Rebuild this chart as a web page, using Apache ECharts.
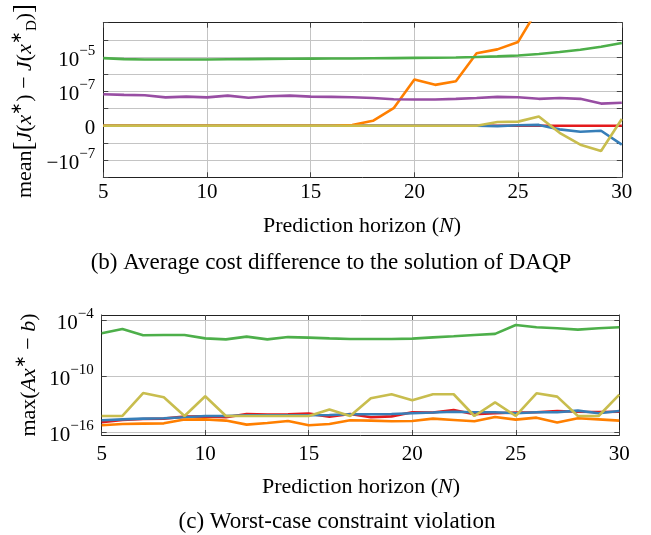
<!DOCTYPE html>
<html>
<head>
<meta charset="utf-8">
<script src="https://cdn.jsdelivr.net/npm/echarts@6/dist/echarts.min.js"></script>
<style>
html,body{margin:0;padding:0;background:#fff;}
#chart{width:651px;height:535px;}
</style>
</head>
<body>
<div id="chart"></div>
<script>
// Prediction horizon
const horizon = [5,6,7,8,9,10,11,12,13,14,15,16,17,18,19,20,21,22,23,24,25,26,27,28,29,30];

// (b) mean cost difference to DAQP (symlog axis)
const costRed    = [0,0,0,0,0,0,0,0,0,0,0,0,0,0,0,0,0,0,0,0,0,0,0,0,0,0];
const costBlue   = [0,0,0,0,0,0,0,0,0,0,0,0,0,0,0,0,0,0,0,-5e-11,7e-11,1.2e-10,-6.2e-10,-1.24e-9,-9.5e-10,-1.16e-8];
const costGreen  = [8.7e-6,7.6e-6,7.2e-6,7.2e-6,7.2e-6,7.2e-6,7.4e-6,7.6e-6,7.8e-6,7.9e-6,8.1e-6,8.3e-6,8.3e-6,8.5e-6,8.7e-6,8.9e-6,9.1e-6,9.5e-6,1.0e-5,1.1e-5,1.23e-5,1.51e-5,1.95e-5,2.69e-5,3.98e-5,6.6e-5];
const costPurple = [6.8e-8,6.2e-8,5.9e-8,4.4e-8,4.9e-8,4.4e-8,5.6e-8,4.2e-8,5.1e-8,5.6e-8,4.9e-8,4.7e-8,4.5e-8,4.0e-8,3.4e-8,3.3e-8,3.3e-8,3.6e-8,4.0e-8,4.7e-8,4.5e-8,3.6e-8,4.0e-8,3.6e-8,1.85e-8,2.1e-8];
const costOrange = [0,0,0,0,0,0,0,0,0,0,0,0,1e-10,9.5e-10,9.5e-9,5.0e-7,2.4e-7,3.9e-7,1.66e-5,2.8e-5,7.6e-5,7.9e-3,2e-2,4e-2,6e-2,1e-1];
const costYellow = [0,0,0,0,0,0,0,0,0,0,0,0,0,0,0,0,0,0,0,6.6e-10,7.4e-10,2.5e-9,-1.57e-9,-1.16e-8,-2.85e-8,1.45e-9];
const costTicks  = {4:['10','−5'], 2:['10','−7'], 0:['0',''], '-2':['−10','−7']};

// (c) worst-case constraint violation (log axis)
const violRed    = [1.17e-15,2.1e-15,2.7e-15,2.9e-15,4.8e-15,5.1e-15,4.1e-15,9.1e-15,7.8e-15,8.5e-15,1.0e-14,4.8e-15,9.1e-15,4.1e-15,5.1e-15,1.4e-14,1.3e-14,2.5e-14,8.5e-15,1.1e-14,1.3e-14,1.4e-14,1.95e-14,1.6e-14,1.5e-14,1.6e-14];
const violBlue   = [1.95e-15,2.45e-15,2.9e-15,3.2e-15,4.1e-15,5.6e-15,5.6e-15,6.6e-15,6.6e-15,6.6e-15,6.6e-15,7.2e-15,8.5e-15,8.5e-15,9.1e-15,1.1e-14,1.3e-14,1.6e-14,1.4e-14,1.4e-14,1.1e-14,1.4e-14,1.4e-14,2.1e-14,1.1e-14,1.95e-14];
const violGreen  = [4.1e-6,1.17e-5,2.5e-6,2.7e-6,2.7e-6,1.17e-6,9.1e-7,1.8e-6,9.1e-7,1.6e-6,1.4e-6,1.17e-6,1.0e-6,1.0e-6,1.0e-6,1.1e-6,1.5e-6,1.95e-6,2.7e-6,3.5e-6,3.2e-5,1.8e-5,1.4e-5,1.0e-5,1.4e-5,1.8e-5];
const violOrange = [5.6e-16,7.8e-16,8.5e-16,9.1e-16,2.3e-15,2.45e-15,1.8e-15,6.6e-16,1.0e-15,1.6e-15,5.6e-16,7.8e-16,1.95e-15,1.8e-15,1.5e-15,1.6e-15,2.9e-15,2.1e-15,1.5e-15,4.4e-15,2.3e-15,3.7e-15,1.1e-15,3.2e-15,2.45e-15,1.8e-15];
const violYellow = [5.6e-15,5.6e-15,1.6e-12,5.6e-13,5.6e-15,7.2e-13,5.6e-15,5.6e-15,5.6e-15,5.6e-15,5.6e-15,2.7e-14,5.6e-15,4.4e-13,1.2e-12,2.7e-13,1.2e-12,1.2e-12,5.6e-15,1.6e-13,5.6e-15,1.5e-12,6.6e-13,5.6e-15,5.6e-15,1.1e-12];
const violTicks  = [-16,-10,-4];

const xTicks = {min:5, max:30, interval:5};

const FONT = "'Liberation Serif','Times New Roman',serif";
const colors = {red:'#e41a1c', blue:'#377eb8', green:'#4daf4a', purple:'#984ea3', orange:'#ff7f00', yellow:'#c8bd4e'};

function symlog(v){ return Math.sign(v)*Math.log10(1+Math.abs(v)/1e-9); }
function pairs(ys, f){ return horizon.map((n,i)=>[n, f(ys[i])]); }

const rich = {
  b:{fontFamily:FONT, fontSize:21, color:'#000', verticalAlign:'bottom', lineHeight:27},
  s:{fontFamily:FONT, fontSize:15, color:'#000', verticalAlign:'top', lineHeight:27}
};
const frame = {show:true, onZero:false, lineStyle:{color:'#222', width:1}};
const tickIn = {show:true, inside:true, length:5, lineStyle:{color:'#444', width:1}};
const grid = {show:true, lineStyle:{color:'#c4c4c4', width:1}};

function xAxes(gi, margin){
  return [
    {type:'value', gridIndex:gi, position:'bottom', min:xTicks.min, max:xTicks.max, interval:xTicks.interval,
     axisLine:frame, axisTick:tickIn, splitLine:grid,
     axisLabel:{fontFamily:FONT, fontSize:21, color:'#000', margin:margin}},
    {type:'value', gridIndex:gi, position:'top', min:xTicks.min, max:xTicks.max, interval:xTicks.interval,
     axisLine:frame, axisTick:tickIn, splitLine:{show:false}, axisLabel:{show:false}}
  ];
}

const topY = {type:'value', gridIndex:0, min:-3, max:6, interval:1};
const botY = {type:'value', gridIndex:1, min:-16.29, max:-3.43};

const option = {
  animation:false,
  backgroundColor:'#fff',
  grid:[
    {left:103.3, top:22.7, width:518.5, height:154.6},
    {left:101.7, top:315, width:517.6, height:120}
  ],
  xAxis:[...xAxes(0, 5), ...xAxes(1, 9)],
  yAxis:[
    Object.assign({}, topY, {position:'left', axisLine:frame, axisTick:tickIn, splitLine:grid,
      axisLabel:{margin:8, rich:rich, formatter:function(v){
        const t = costTicks[v]; if(!t) return '';
        return t[1] ? '{b|'+t[0]+'}{s|'+t[1]+'}' : '{b|'+t[0]+'}';
      }}}),
    Object.assign({}, topY, {position:'right', axisLine:frame, axisTick:tickIn, splitLine:{show:false}, axisLabel:{show:false}}),
    Object.assign({}, botY, {position:'left', axisLine:frame,
      axisTick:Object.assign({customValues:violTicks}, tickIn), splitLine:grid,
      axisLabel:{customValues:violTicks, margin:8, rich:rich, formatter:function(v){
        return '{b|10}{s|−'+Math.round(-v)+'}';
      }}}),
    Object.assign({}, botY, {position:'right', axisLine:frame,
      axisTick:Object.assign({customValues:violTicks}, tickIn), splitLine:{show:false}, axisLabel:{show:false}})
  ],
  series:[]
};

const seriesDefs = [
  ['red', costRed, violRed],
  ['blue', costBlue, violBlue],
  ['orange', costOrange, violOrange],
  ['green', costGreen, violGreen],
  ['purple', costPurple, null],
  ['yellow', costYellow, violYellow]
];
seriesDefs.forEach(function(d){
  option.series.push({type:'line', xAxisIndex:0, yAxisIndex:0, data:pairs(d[1], symlog),
    showSymbol:false, clip:true, lineStyle:{color:colors[d[0]], width:2.6}, itemStyle:{color:colors[d[0]]}});
  if(d[2]) option.series.push({type:'line', xAxisIndex:2, yAxisIndex:2, data:pairs(d[2], Math.log10),
    showSymbol:false, clip:true, lineStyle:{color:colors[d[0]], width:2.6}, itemStyle:{color:colors[d[0]]}});
});

const tRich = {
  r:{fontFamily:FONT, fontSize:22, color:'#000', lineHeight:30, verticalAlign:'middle'},
  c:{fontFamily:FONT, fontSize:23, color:'#000', lineHeight:30, verticalAlign:'middle'},
  i:{fontFamily:FONT, fontSize:22, fontStyle:'italic', color:'#000', lineHeight:30, verticalAlign:'middle'},
  br:{fontFamily:FONT, fontSize:27, color:'#000', lineHeight:30, verticalAlign:'middle'},
  sp:{fontFamily:FONT, fontSize:15, color:'#000', lineHeight:30, verticalAlign:'top'},
  sb:{fontFamily:FONT, fontSize:15, color:'#000', lineHeight:30, verticalAlign:'bottom'}
};
function txt(x, y, text, rot){
  return {type:'text', x:x, y:y, rotation:rot||0, silent:true,
    style:{text:text, rich:tRich, align:'center', verticalAlign:'middle', fontFamily:FONT, fontSize:22, fill:'#000'}};
}
option.graphic = [
  txt(25, 101, '{r|mean}{br|[}{i|J}{r|(}{i|x}{sp|∗}{r|) − }{i|J}{r|(}{i|x}{sp|∗}{sb|D}{r|)}{br|]}', Math.PI/2),
  txt(29, 375, '{r|max(}{i|Ax}{sp|∗}{r| − }{i|b}{r|)}', Math.PI/2),
  txt(362, 226, '{r|Prediction horizon (}{i|N}{r|)}'),
  txt(331, 263, '{c|(b) Average cost difference to the solution of DAQP}'),
  txt(361, 487, '{r|Prediction horizon (}{i|N}{r|)}'),
  txt(337, 522, '{c|(c) Worst-case constraint violation}')
];

const chart = echarts.init(document.getElementById('chart'), null, {renderer:'canvas'});
chart.setOption(option);
</script>
</body>
</html>
